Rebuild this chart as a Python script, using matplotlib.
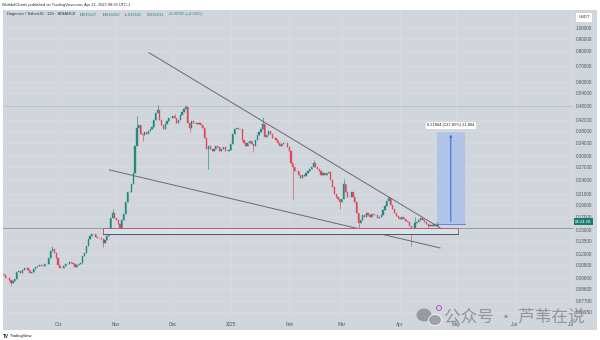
import matplotlib
matplotlib.use('Agg')
import matplotlib.pyplot as plt
import matplotlib.dates as mdates
from matplotlib.patches import Rectangle, Ellipse
from matplotlib.ticker import NullLocator, NullFormatter
from matplotlib.transforms import blended_transform_factory
import numpy as np
import pandas as pd

plt.rcParams['font.family'] = ['Liberation Sans', 'DejaVu Sans']

# DOGE/USDT daily closes, 2024-09-02 .. 2025-04-21
start_date = '2024-09-02'
first_open = 0.0995
close_sep = [0.0985, 0.0960, 0.0955, 0.0935, 0.0915, 0.0930, 0.0945, 0.1010, 0.1020, 0.1005,
             0.1035, 0.1050, 0.1045, 0.1030, 0.1000, 0.1010, 0.1040, 0.1060, 0.1065, 0.1075,
             0.1065, 0.1070, 0.1095, 0.1085, 0.1150, 0.1230, 0.1250, 0.1210, 0.1150]
close_oct = [0.1080, 0.1050, 0.1045, 0.1070, 0.1085, 0.1095, 0.1110, 0.1105, 0.1085, 0.1060,
             0.1075, 0.1090, 0.1105, 0.1170, 0.1210, 0.1290, 0.1380, 0.1420, 0.1440, 0.1450,
             0.1410, 0.1390, 0.1385, 0.1375, 0.1330, 0.1360, 0.1420, 0.1530, 0.1670, 0.1760,
             0.1680]
close_nov = [0.1640, 0.1580, 0.1520, 0.1640, 0.1740, 0.1950, 0.2150, 0.2150, 0.2300, 0.2550,
             0.3300, 0.3900, 0.4000, 0.3700, 0.3650, 0.3750, 0.3700, 0.3780, 0.3850, 0.3950,
             0.4200, 0.4500, 0.4600, 0.4200, 0.4000, 0.3850, 0.4050, 0.4150, 0.4280, 0.4300]
close_dec = [0.4350, 0.4300, 0.4100, 0.4200, 0.4400, 0.4550, 0.4650, 0.4750, 0.4100, 0.3900,
             0.4150, 0.4100, 0.4100, 0.4050, 0.4100, 0.4000, 0.3900, 0.3550, 0.3200, 0.3300,
             0.3200, 0.3150, 0.3200, 0.3300, 0.3250, 0.3150, 0.3200, 0.3250, 0.3150, 0.3130,
             0.3160]
close_jan = [0.3350, 0.3700, 0.3850, 0.3900, 0.3850, 0.3850, 0.3500, 0.3400, 0.3300, 0.3400,
             0.3450, 0.3350, 0.3300, 0.3500, 0.3650, 0.3750, 0.3850, 0.4050, 0.3600, 0.3650,
             0.3800, 0.3700, 0.3550, 0.3550, 0.3500, 0.3400, 0.3300, 0.3350, 0.3400, 0.3380,
             0.3250]
close_feb = [0.3150, 0.2800, 0.2700, 0.2600, 0.2600, 0.2500, 0.2450, 0.2500, 0.2480, 0.2550,
             0.2600, 0.2650, 0.2700, 0.2800, 0.2700, 0.2650, 0.2600, 0.2520, 0.2550, 0.2500,
             0.2550, 0.2580, 0.2400, 0.2250, 0.2100, 0.2050, 0.2000, 0.1950]
close_mar = [0.2000, 0.2300, 0.2150, 0.2050, 0.2050, 0.2150, 0.2050, 0.1950, 0.1750, 0.1600,
             0.1650, 0.1720, 0.1700, 0.1750, 0.1720, 0.1700, 0.1740, 0.1720, 0.1730, 0.1680,
             0.1700, 0.1720, 0.1800, 0.1880, 0.1960, 0.2020, 0.1900, 0.1820, 0.1760, 0.1710,
             0.1680]
close_apr = [0.1660, 0.1700, 0.1660, 0.1630, 0.1620, 0.1560, 0.1450, 0.1500, 0.1600, 0.1620,
             0.1640, 0.1670, 0.1650, 0.1620, 0.1590, 0.1550, 0.1570, 0.1560, 0.1580, 0.1550,
             0.1623]

# long wicks
wick_high = {'2024-09-28': 0.1295, '2024-10-30': 0.1820, '2024-11-12': 0.4350,
             '2024-11-23': 0.4840, '2024-12-02': 0.4450, '2024-12-08': 0.4840,
             '2025-01-18': 0.4340, '2025-02-14': 0.2900, '2025-03-02': 0.2420,
             '2025-03-26': 0.2070, '2025-04-09': 0.1700}
wick_low = {'2024-09-06': 0.0890, '2024-10-25': 0.1280, '2024-11-03': 0.1450,
            '2024-11-15': 0.3450, '2024-12-10': 0.3750, '2024-12-20': 0.2650,
            '2025-01-13': 0.3100, '2025-02-03': 0.2000, '2025-02-28': 0.1830,
            '2025-03-10': 0.1500, '2025-04-07': 0.1290, '2025-04-16': 0.1510}

month_starts = ['2024-10-01', '2024-11-01', '2024-12-01', '2025-01-01', '2025-02-01',
                '2025-03-01', '2025-04-01', '2025-05-01', '2025-06-01', '2025-07-01']
month_labels = ['Oct', 'Nov', 'Dec', '2025', 'Feb', 'Mar', 'Apr', 'May', 'Jun', 'Jul']

price_ticks = [1.0, 0.9, 0.8, 0.7, 0.6, 0.54, 0.48, 0.42, 0.38, 0.34, 0.30, 0.27, 0.24,
               0.21, 0.19, 0.17, 0.15, 0.135, 0.12, 0.108, 0.096, 0.086, 0.077, 0.0695]

# drawings
upper_line = (('2024-11-18 10:00', 0.790), ('2025-04-26 12:00', 0.1463))
lower_line = (('2024-10-28 08:00', 0.2633), ('2025-04-22 08:00', 0.1267))
support_zone = ('2024-10-25', '2025-05-02', 0.1445, 0.1525)
range_start, range_end = '2025-04-20 12:00', '2025-05-05 14:00'
range_low, range_high = 0.15817, 0.37621
range_text = '0.21804 (137.85%) 21,804'

green = '#24897a'
red = '#e0485a'
panel_bg = '#d1d5dc'
grid_col = '#dadde3'

closes = close_sep + close_oct + close_nov + close_dec + close_jan + close_feb + close_mar + close_apr
dates = pd.date_range(start_date, periods=len(closes), freq='D')
x = mdates.date2num(dates)
c = np.array(closes)
o = np.concatenate([[first_open], c[:-1]])
body_lo = np.minimum(o, c)
body_hi = np.maximum(o, c)
hi = body_hi.copy()
lo = body_lo.copy()
for d, v in wick_high.items():
    i = dates.get_loc(pd.Timestamp(d))
    hi[i] = max(hi[i], v)
for d, v in wick_low.items():
    i = dates.get_loc(pd.Timestamp(d))
    lo[i] = min(lo[i], v)
cols = np.where(c >= o, green, red)

def dn(s):
    return mdates.date2num(pd.Timestamp(s))

W, H = 600, 340
fig = plt.figure(figsize=(6, 3.4), dpi=100)
fig.patch.set_facecolor('white')
fig.patches.append(Rectangle((3 / W, 1 - 330 / H), 594 / W, 320 / H, transform=fig.transFigure,
                             facecolor=panel_bg, edgecolor='none', zorder=-10))

ax = fig.add_axes([3 / W, 1 - 318 / H, 570 / W, 308 / H])
ax.set_facecolor(panel_bg)
ax.set_yscale('log')
ax.set_ylim(0.0657, 1.179)
ax.set_xlim(dn('2024-09-01 17:00'), dn('2025-07-02 02:00'))
for s in ax.spines.values():
    s.set_visible(False)

ax.set_xticks([dn(m) for m in month_starts])
ax.set_xticklabels(month_labels)
ax.yaxis.tick_right()
ax.set_yticks(price_ticks)
ax.set_yticklabels(['%.5f' % v for v in price_ticks])
ax.yaxis.set_minor_locator(NullLocator())
ax.yaxis.set_minor_formatter(NullFormatter())
ax.tick_params(axis='both', length=0, labelsize=3.3, labelcolor='#50545c')
ax.tick_params(axis='x', pad=3)
ax.tick_params(axis='y', pad=2)
ax.grid(True, color=grid_col, lw=0.5, zorder=0)
ax.set_axisbelow(True)

# horizontal levels
ax.axhline(0.48, color='#b4b8bf', lw=0.5, zorder=1)
ax.axhline(support_zone[3], color='#7d828a', lw=0.5, zorder=1)

# candles
ax.vlines(x, lo, hi, colors=cols, lw=0.45, zorder=3)
ax.bar(x, body_hi - body_lo, bottom=body_lo, width=0.62, color=cols, edgecolor=cols,
       lw=0.25, zorder=4)

# falling wedge
for (d0, p0), (d1, p1) in (upper_line, lower_line):
    ax.plot([dn(d0), dn(d1)], [p0, p1], color='#666a71', lw=0.7, zorder=5)

# support zone
zx0, zx1 = dn(support_zone[0]), dn(support_zone[1])
ax.add_patch(Rectangle((zx0, support_zone[2]), zx1 - zx0, support_zone[3] - support_zone[2],
                       facecolor='#cfe4ec', edgecolor='#d9434f', lw=0.6, zorder=6))
ax.plot([zx0, zx1], [support_zone[2], support_zone[2]], color='#4e5259', lw=0.6, zorder=6)

# price range measurement
rx0, rx1 = dn(range_start), dn(range_end)
ax.add_patch(Rectangle((rx0, range_low), rx1 - rx0, range_high - range_low,
                       facecolor='#a7bfec', alpha=0.75, edgecolor='none', zorder=6))
ax.plot([rx0, rx1], [range_low, range_low], color='#4b7be0', lw=0.6, zorder=7)
rxm = (rx0 + rx1) / 2
ax.annotate('', xy=(rxm, range_high), xytext=(rxm, range_low),
            arrowprops=dict(arrowstyle='-|>', color='#3c6fdc', lw=0.8, mutation_scale=3),
            zorder=7)
ax.text(rxm, 0.3995, range_text, ha='center', va='center', fontsize=2.9, color='#222',
        zorder=8, bbox=dict(boxstyle='round,pad=0.45,rounding_size=0.3', fc='white',
                            ec='#c9ccd2', lw=0.3))

# last price countdown
trans = blended_transform_factory(ax.transAxes, ax.transData)
ax.text(1.004, closes[-1], '04:24:28', transform=trans, ha='left', va='center',
        fontsize=3.1, color='white', zorder=9, clip_on=False,
        bbox=dict(boxstyle='square,pad=0.35', fc='#17806d', ec='none'))

# header texts
fig.text(2 / W, 1 - 5 / H, 'WorldofCharts published on TradingView.com, Apr 21, 2025 08:35 UTC-1',
         fontsize=2.9, color='#2a2e35', va='center', ha='left')
fig.text(7 / W, 1 - 14.5 / H, 'Dogecoin / TetherUS · 12h · BINANCE', fontsize=2.9,
         color='#2a2e35', va='center', ha='left')
ohlc = [('O', '0.15527', 80), ('H', '0.16262', 103), ('L', '0.15501', 125), ('C', '0.16231', 147)]
for k, v, px in ohlc:
    fig.text(px / W, 1 - 14.5 / H, k, fontsize=2.9, color='#2a2e35', va='center', ha='left')
    fig.text((px + 2.6) / W, 1 - 14.5 / H, v, fontsize=2.9, color=green, va='center', ha='left')
fig.text(168 / W, 1 - 14.5 / H, '+0.00705 (+4.54%)', fontsize=2.9, color=green,
         va='center', ha='left')
fig.text(584 / W, 1 - 17.5 / H, 'USDT', fontsize=3.0, color='#2a2e35', va='center', ha='center',
         bbox=dict(boxstyle='square,pad=0.5', fc='white', ec='none'))

# footer logo
fig.text(3 / W, 1 - 336 / H, 'TV', fontsize=3.3, weight='bold', color='#131722',
         va='center', ha='left')
fig.text(10 / W, 1 - 336 / H, 'TradingView', fontsize=3.0, color='#131722',
         va='center', ha='left')

# watermark
fig.patches.append(Ellipse((424 / W, 1 - 315 / H), 15 / W, 13 / H, transform=fig.transFigure,
                           facecolor='#8d9097', edgecolor='none', alpha=0.85, zorder=10))
fig.patches.append(Ellipse((435 / W, 1 - 320 / H), 13 / W, 11 / H, transform=fig.transFigure,
                           facecolor='#9a9da3', edgecolor='white', lw=0.6, alpha=0.9, zorder=10))
fig.patches.append(Ellipse((439 / W, 1 - 308 / H), 5 / W, 5 / H, transform=fig.transFigure,
                           facecolor='#d8c7e6', edgecolor='#b04ab0', lw=0.6, zorder=11))
fig.text(444 / W, 1 - 317 / H, '公众号 · 芦苇在说', fontsize=12, color='#8a8d93', alpha=0.9,
         va='center', ha='left', family=['Noto Sans CJK SC', 'DejaVu Sans'], zorder=12)

fig.savefig('out.png', dpi=100, facecolor='white')
